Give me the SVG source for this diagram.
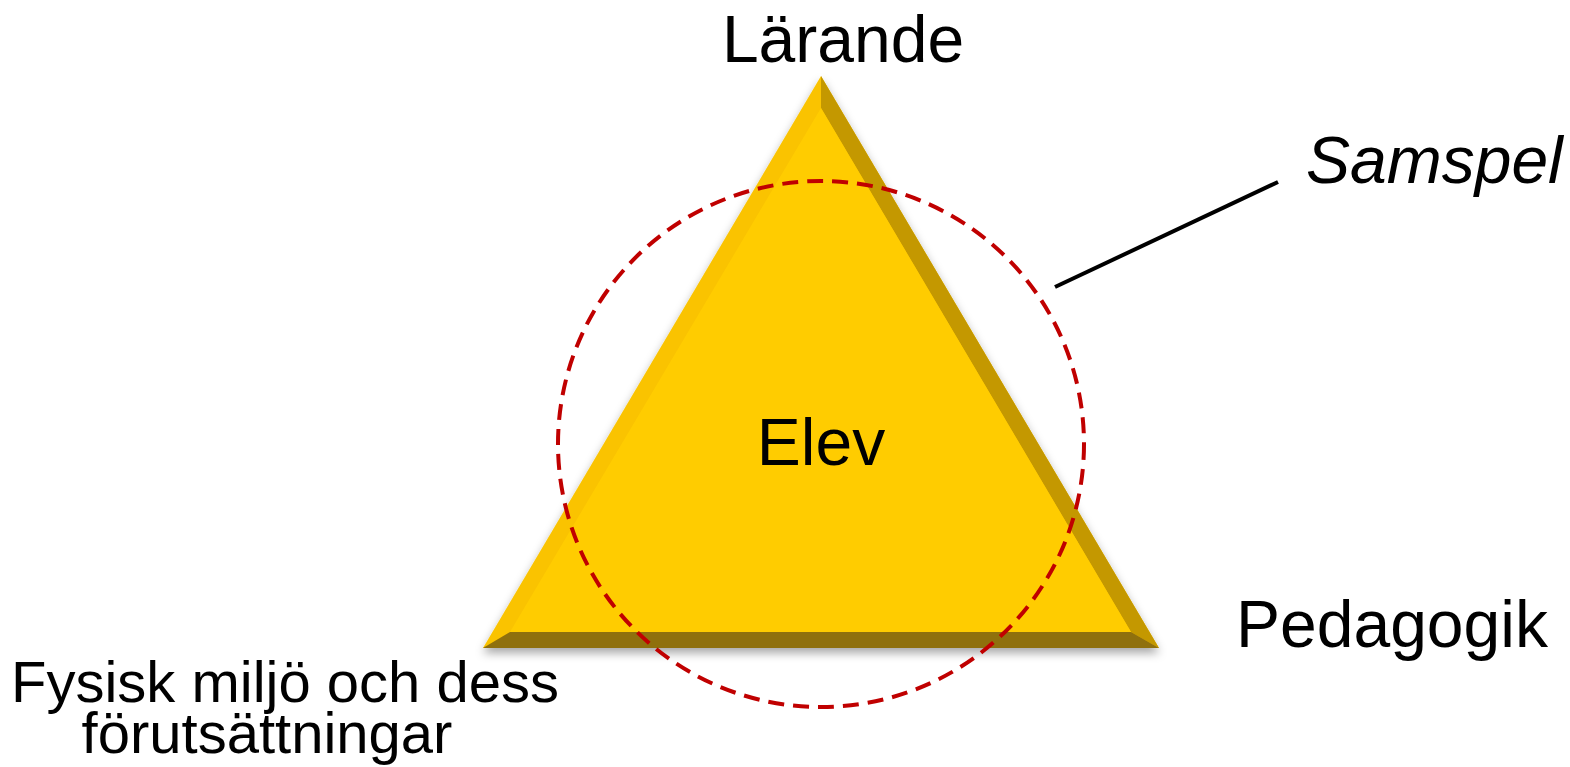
<svg xmlns="http://www.w3.org/2000/svg" width="1570" height="767" viewBox="0 0 1570 767">
  <defs>
    <filter id="shadow" x="-10%" y="-10%" width="120%" height="125%">
      <feDropShadow dx="0" dy="5" stdDeviation="5" flood-color="#000" flood-opacity="0.35"/>
    </filter>
    <style>
      .lbl { font-family: "Liberation Sans", Arial, sans-serif; font-size: 66px; fill: #000; }
      .small { font-size: 58px; }
    </style>
  </defs>
  <rect width="1570" height="767" fill="#fff"/>
  <g id="triangle" filter="url(#shadow)">
    <polygon points="821,76 483,648 1159,648" fill="#FAC300"/>
    <polygon points="821,76 821,108 1131,632 1159,648" fill="#C49800"/>
    <polygon points="510,632 1131,632 1159,648 483,648" fill="#8F6F0B"/>
    <polygon points="821,108 510,632 1131,632" fill="#FFCC04"/>
  </g>
  <g id="connectors">
    <circle cx="821" cy="444" r="263" fill="none" stroke="#C00000" stroke-width="4" stroke-dasharray="16 9"/>
    <line x1="1055" y1="287" x2="1278" y2="182" stroke="#000" stroke-width="4"/>
  </g>
  <g id="larande"><text class="lbl" x="843" y="62" text-anchor="middle">Lärande</text></g>
  <g id="samspel"><text class="lbl" x="1306" y="183" font-style="italic">Samspel</text></g>
  <g id="elev"><text class="lbl" x="821" y="465" text-anchor="middle">Elev</text></g>
  <g id="pedagogik"><text class="lbl" x="1236" y="647">Pedagogik</text></g>
  <g id="fysisk">
    <text class="lbl small" x="285" y="702" text-anchor="middle">Fysisk miljö och dess</text>
    <text class="lbl small" x="267" y="753" text-anchor="middle">förutsättningar</text>
  </g>
</svg>
